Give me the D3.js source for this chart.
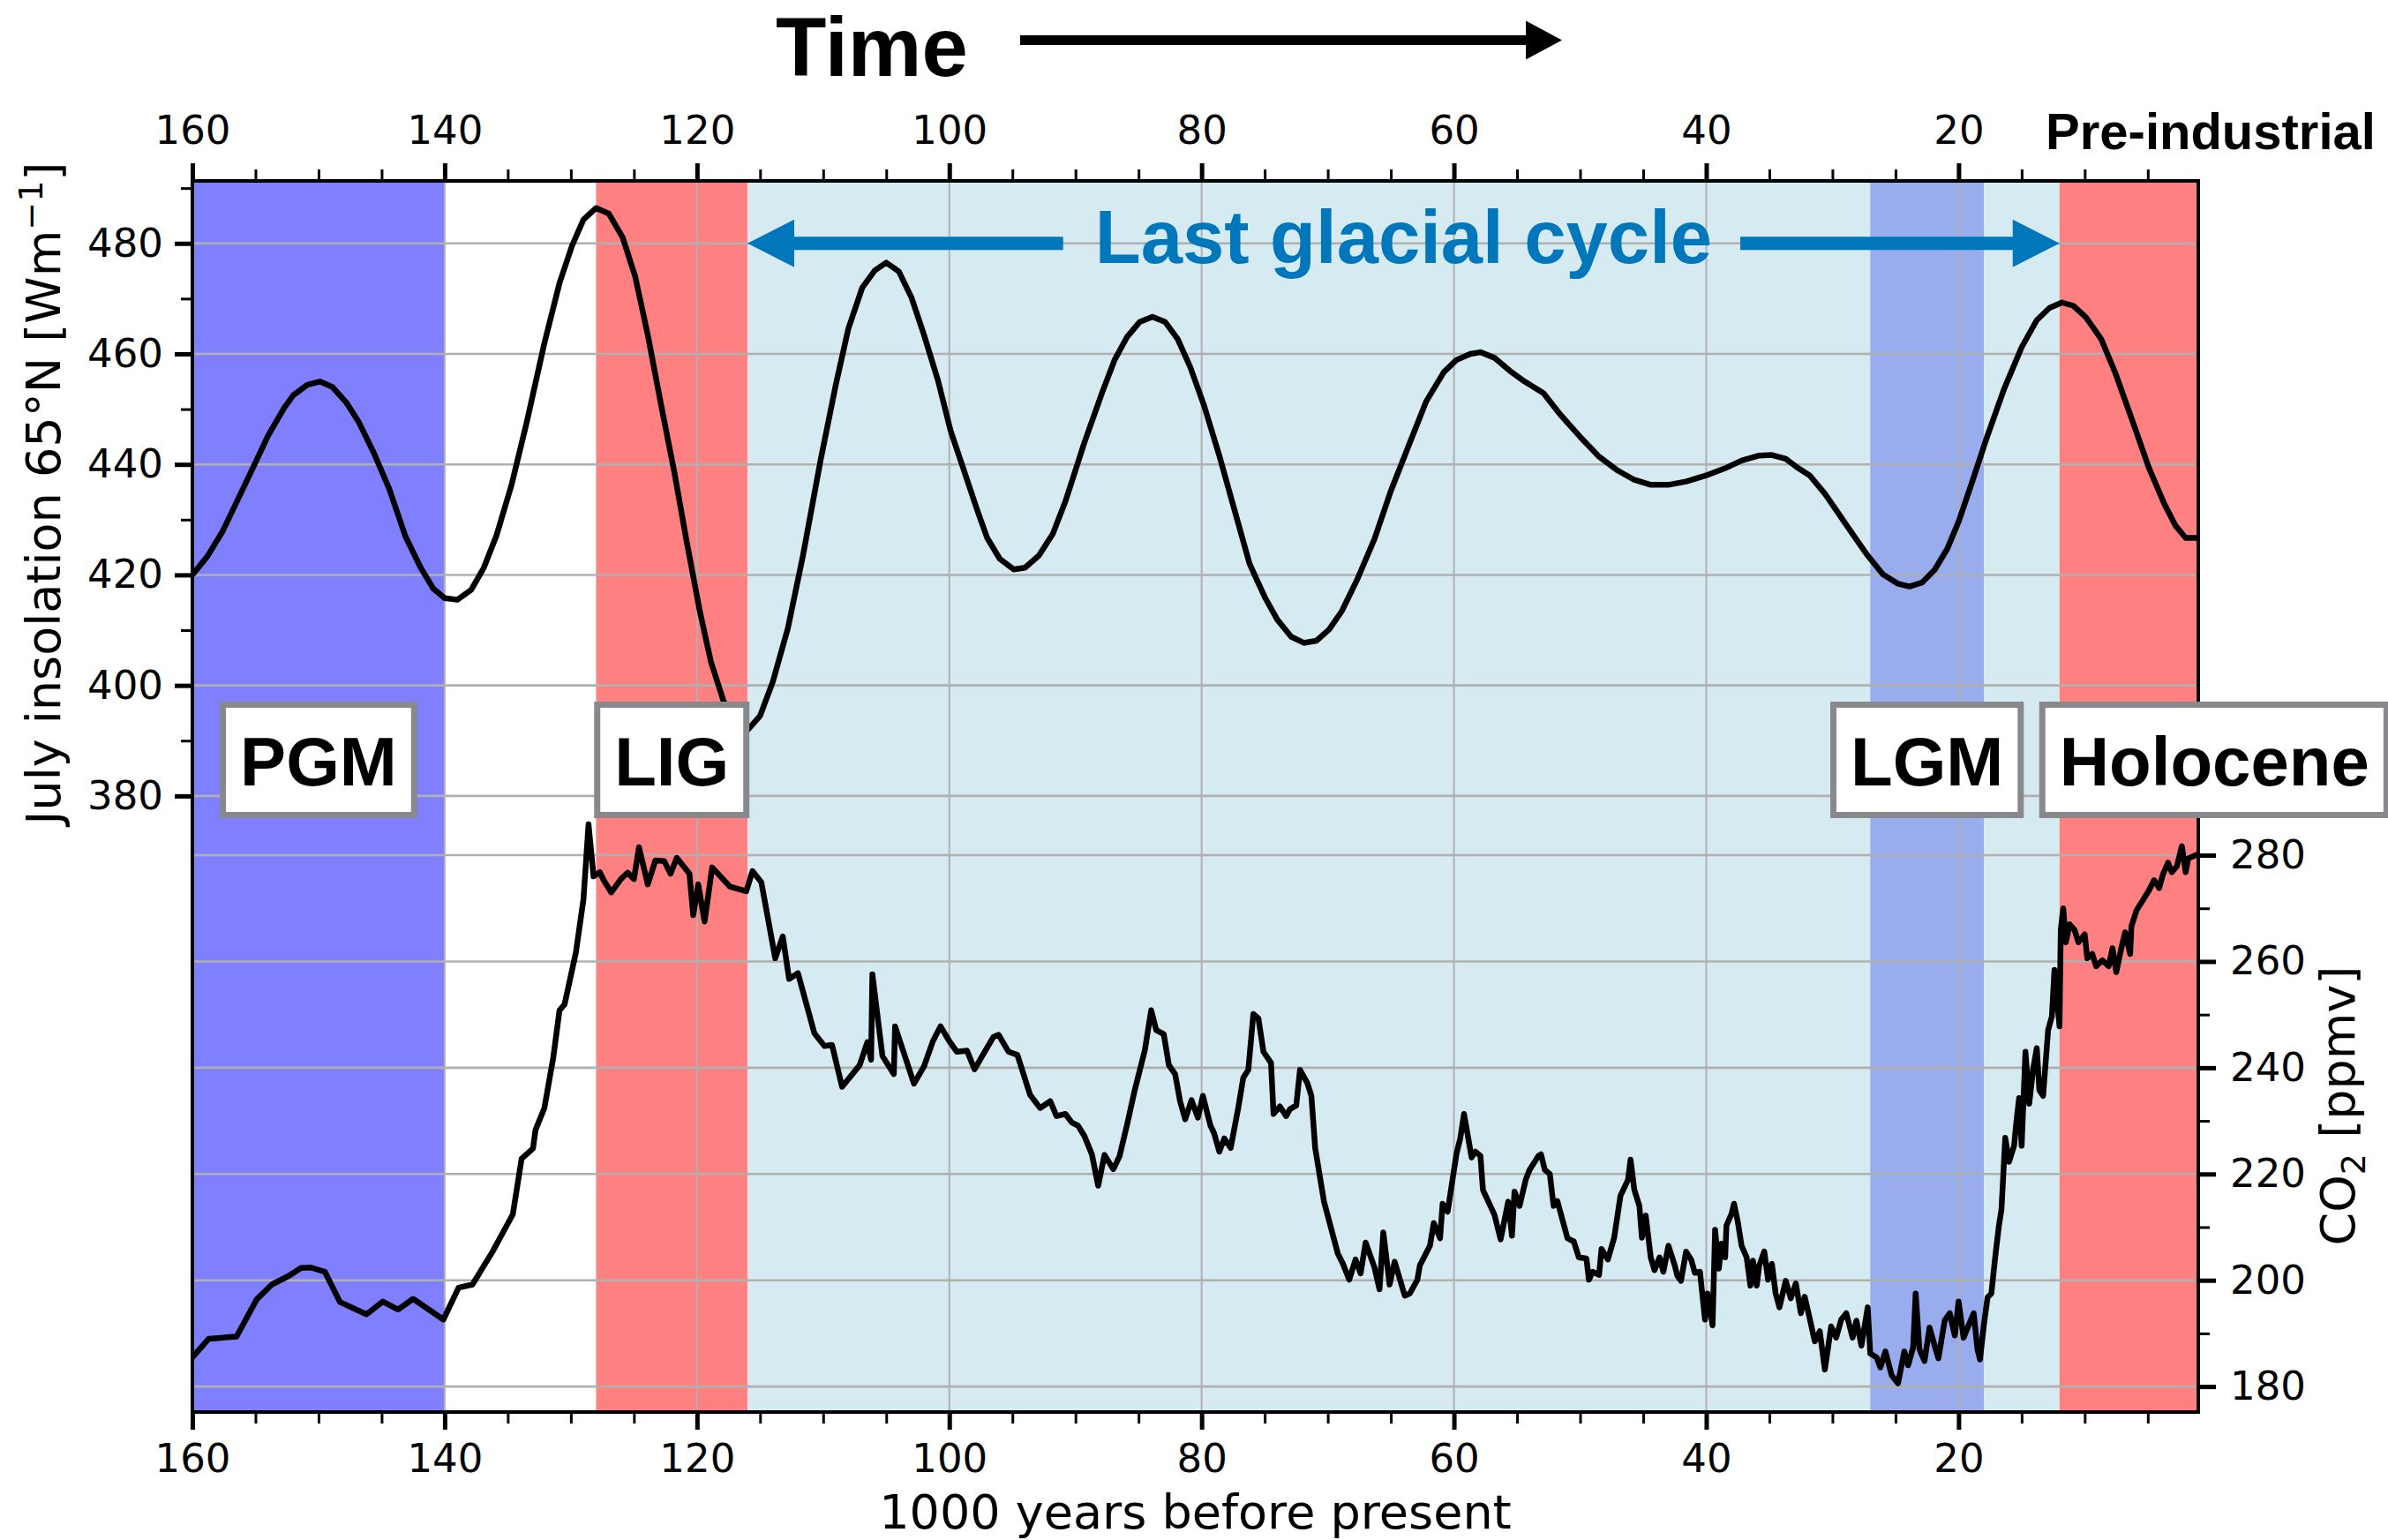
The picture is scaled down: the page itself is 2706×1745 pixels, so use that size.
<!DOCTYPE html>
<html>
<head>
<meta charset="utf-8">
<script src="https://cdn.jsdelivr.net/npm/d3@7"></script>
<style>
  html, body { margin: 0; padding: 0; background: #fff; }
  svg { display: block; }
  .tick text { font-family: "DejaVu Sans", sans-serif; font-size: 45px; fill: #000; }
</style>
</head>
<body>
<svg id="chart" width="2706" height="1745"></svg>
<script>
// ── Datos: insolación de julio 65°N ─────────────────────────────
const insKyr = [160, 158.8, 157.6, 155.4, 154.0, 152.7, 152.0, 150.9, 149.9, 148.9, 147.8, 146.8, 145.6, 144.4,
  143.1, 141.9, 140.9, 140.0, 139.0, 137.9, 136.9, 135.9, 134.7, 133.5, 132.1, 130.9, 129.9, 129.0, 128.0, 127.0,
  125.9, 124.9, 123.9, 122.9, 121.8, 120.8, 119.8, 118.9, 117.9, 117.0, 116.0, 115.0, 114.0, 112.8, 111.6, 110.2,
  109.0, 108.0, 106.9, 105.9, 105.0, 104.0, 103.0, 102.0, 100.9, 99.9, 98.9, 97.8, 97.0, 96.0, 94.9, 94.0, 92.9,
  91.8, 90.8, 89.3, 87.9, 86.9, 85.9, 84.9, 83.9, 82.9, 81.9, 80.9, 79.8, 78.6, 77.4, 76.2, 75.0, 74.0, 72.9, 71.9,
  70.9, 69.9, 68.9, 67.7, 66.3, 65.0, 63.5, 62.2, 60.8, 59.8, 58.7, 57.9, 56.8, 55.6, 54.4, 52.9, 51.6, 50.0, 48.5,
  47.1, 45.7, 44.4, 43.0, 41.6, 40.0, 38.5, 37.2, 35.8, 34.8, 33.7, 32.7, 31.8, 30.6, 29.6, 28.4, 27.2, 26.0, 24.8,
  23.9, 22.9, 21.9, 20.9, 20.0, 19.0, 17.8, 16.4, 15.0, 13.8, 12.8, 11.8, 10.9, 9.9, 8.7, 7.6, 6.3, 4.9, 3.7, 2.8,
  2.0, 1.0];
const insWm2 = [420.0, 423.4, 427.9, 438.4, 445.2, 450.3, 452.5, 454.4, 455.0, 454.0, 451.2, 447.6, 442.0, 435.6,
  426.9, 421.3, 417.5, 415.8, 415.5, 417.3, 421.3, 427.1, 436.3, 447.6, 461.9, 472.8, 479.6, 484.3, 486.4, 485.4,
  481.1, 474.0, 463.4, 451.4, 438.6, 425.8, 413.7, 404.3, 397.2, 393.0, 391.9, 394.5, 400.6, 410.3, 423.5, 440.8,
  454.4, 464.6, 472.0, 475.1, 476.5, 474.9, 470.2, 463.4, 455.2, 446.1, 439.3, 431.8, 426.7, 422.9, 421.0, 421.3, 423.5,
  427.4, 433.3, 443.9, 452.9, 458.9, 463.1, 465.8, 466.7, 465.8, 462.7, 457.6, 450.6, 441.6, 431.8, 422.0, 416.0, 411.9, 408.8, 407.7,
  408.1, 410.1, 413.4, 419.0, 426.5, 435.2, 443.9, 451.4, 456.7, 458.9, 460.0, 460.3, 459.3, 457.0, 455.0, 452.9, 449.1, 445.0, 441.4,
  439.0, 437.2, 436.3, 436.3, 436.9, 438.0, 439.3, 440.7, 441.6, 441.7, 441.0, 439.3, 438.0, 434.7, 431.4, 427.4, 423.5, 420.1, 418.4,
  417.9, 418.6, 420.9, 424.7, 429.6, 436.3, 444.6, 453.6, 461.2, 466.1, 468.3, 469.3, 468.7, 466.6, 462.7, 456.7, 448.4, 439.3, 432.9, 428.9,
  426.7, 426.7];

// ── Datos: CO2 ───────────────────────────────────────────────────
const co2Kyr = [160.0, 158.7, 156.5, 154.9, 153.7, 152.3, 151.4, 150.6, 149.5, 148.3, 146.2, 144.9, 143.7, 142.5, 140.1,
  138.9, 137.8, 136.2, 134.6, 133.9, 133.0, 132.8, 132.1, 131.4, 130.9, 130.5, 129.6, 129.0, 128.6, 128.2, 127.7, 127.4,
  126.8, 126.0, 125.5, 125.0, 124.6, 123.9, 123.3, 122.6, 122.1, 121.6, 120.6, 120.3, 119.9, 119.4, 118.8, 117.4, 116.1,
  115.6, 114.9, 113.8, 113.2, 112.7, 112.0, 110.7, 109.9, 109.3, 108.5, 107.1, 106.5, 106.2, 106.1, 105.3, 104.4, 104.3,
  102.8, 102.0, 101.3, 100.7, 100.0, 99.4, 98.6, 98.0, 97.2, 96.5, 96.1, 95.3, 94.6, 93.6, 92.8, 92.0, 91.5, 90.8, 90.3,
  89.8, 89.3, 88.7, 88.2, 87.7, 87.0, 86.5, 85.9, 85.3, 84.5, 84.0, 83.6, 83.0, 82.6, 82.1, 81.7, 81.3, 80.8, 80.3, 79.9,
  79.3, 79.0, 78.6, 78.2, 77.7, 77.1, 76.7, 76.3, 75.9, 75.5, 75.1, 74.5, 74.3, 73.8, 73.3, 73.0, 72.5, 72.2, 71.6, 71.3,
  71.0, 70.3, 69.2, 68.8, 68.3, 67.8, 67.4, 67.0, 66.3, 65.9, 65.6, 65.1, 64.7, 63.9, 63.5, 62.9, 62.7, 61.9, 61.6, 61.1,
  60.9, 60.5, 59.8, 59.5, 59.2, 58.6, 58.3, 57.9, 57.7, 56.8, 56.3, 55.7, 55.4, 55.2, 54.8, 54.3, 54.0, 53.7, 53.3, 53.1,
  52.8, 52.4, 52.1, 51.8, 51.0, 50.5, 50.1, 49.5, 49.3, 49.0, 48.5, 48.3, 47.8, 47.3, 46.8, 46.2, 46.0, 45.7, 45.3, 45.1,
  44.8, 44.4, 44.1, 43.7, 43.4, 43.0, 42.5, 42.3, 42.0, 41.6, 41.2, 40.9, 40.5, 40.1, 39.9, 39.5, 39.3, 39.0, 38.8, 38.5,
  38.4, 38.0, 37.8, 37.5, 37.2, 36.8, 36.5, 36.3, 36.0, 35.8, 35.4, 35.1, 34.8, 34.5, 34.2, 33.7, 33.3, 32.9, 32.5, 32.2,
  31.8, 31.4, 31.0, 30.6, 30.1, 29.7, 29.3, 28.9, 28.4, 28.1, 27.7, 27.2, 27.0, 26.5, 26.2, 25.8, 25.3, 24.8, 24.3, 24.0,
  23.6, 23.4, 23.1, 22.7, 22.3, 21.9, 21.6, 21.1, 20.7, 20.3, 20.0, 19.6, 19.2, 18.8, 18.5, 18.3, 18.0, 17.7, 17.4, 17.1,
  16.8, 16.6, 16.3, 16.0, 15.6, 15.4, 15.2, 15.0, 14.7, 14.4, 14.1, 13.8, 13.6, 13.3, 12.9, 12.6, 12.4, 12.0, 11.9, 11.7,
  11.5, 11.2, 10.8, 10.5, 10.0, 9.8, 9.4, 9.1, 8.6, 8.1, 7.8, 7.5, 7.1, 6.8, 6.4, 6.3, 5.9, 5.4, 4.9, 4.5, 4.1, 3.8, 3.4,
  3.1, 2.7, 2.3, 2.0, 1.8, 1.0];
const co2Ppmv = [185.5, 189.0, 189.4, 196.4, 199.2, 200.9, 202.3, 202.4, 201.6, 195.9, 193.6, 196.0, 194.5, 196.5, 192.6,
  198.6, 199.2, 205.4, 212.4, 222.9, 224.8, 228.3, 232.4, 241.8, 250.8, 251.9, 261.7, 271.7, 285.8, 276.0, 276.8, 275.3,
  273.0, 275.6, 276.7, 275.5, 281.5, 274.5, 279.0, 278.9, 276.5, 279.5, 276.5, 268.7, 274.5, 267.5, 277.7, 274.1, 273.2,
  277.0, 274.9, 260.6, 264.7, 256.7, 257.8, 246.5, 244.1, 244.3, 236.4, 240.5, 244.8, 241.5, 257.6, 242.2, 238.8, 247.8,
  237.0, 240.3, 245.0, 247.8, 245.0, 243.0, 243.2, 239.7, 243.0, 245.8, 246.2, 243.0, 242.4, 234.9, 232.4, 233.7, 230.9, 231.3, 229.7,
  229.1, 227.2, 223.7, 217.8, 223.6, 220.9, 223.4, 229.4, 235.8, 243.3, 250.8, 247.1, 246.3, 240.5, 238.8, 233.6, 230.3, 233.9, 230.6, 234.7,
  229.1, 227.6, 224.2, 226.7, 224.9, 232.4, 238.1, 239.6, 250.1, 249.3, 243.0, 240.9, 231.3, 232.7, 230.9, 232.2, 232.9, 239.6, 237.0, 234.7,
  224.9, 214.8, 205.0, 203.1, 200.1, 203.9, 201.3, 207.1, 202.4, 198.3, 209.0, 199.2, 203.5, 197.1, 197.5, 200.1, 202.8, 206.5, 210.8, 207.9,
  214.4, 212.9, 223.8, 226.7, 231.3, 223.1, 224.2, 223.4, 217.0, 212.4, 207.7, 214.8, 208.4, 216.7, 214.0, 219.0, 220.8, 221.9, 223.4, 223.7,
  220.8, 220.0, 214.0, 214.9, 207.9, 207.3, 204.3, 204.1, 200.1, 201.6, 201.0, 205.9, 203.9, 208.0, 215.9, 218.9, 222.7, 217.0, 214.0, 208.0,
  212.2, 204.3, 201.9, 204.3, 201.6, 206.5, 202.8, 200.9, 199.9, 205.4, 203.9, 201.4, 201.6, 192.6, 197.5, 191.5, 209.5, 202.2, 206.9, 204.3,
  210.3, 212.5, 214.4, 211.0, 206.5, 204.3, 199.0, 203.7, 199.0, 202.8, 205.4, 200.1, 203.1, 197.5, 194.9, 199.9, 196.6, 199.4, 193.8, 196.9,
  192.8, 188.5, 190.4, 183.2, 191.3, 189.2, 192.6, 193.8, 189.2, 192.4, 187.7, 194.9, 186.2, 185.5, 183.6, 186.6, 182.1, 180.6, 186.6, 184.0,
  187.4, 197.5, 187.0, 184.8, 191.1, 187.7, 185.3, 192.4, 193.8, 189.6, 196.0, 189.2, 191.5, 193.8, 187.0, 185.1, 191.5, 196.8, 197.5, 204.3,
  210.3, 213.3, 226.8, 222.3, 225.3, 230.2, 234.3, 225.3, 243.0, 233.2, 239.6, 243.7, 235.8, 234.7, 247.1, 249.7, 258.4, 247.8, 265.9, 270.0,
  263.6, 267.0, 265.9, 263.6, 265.1, 260.6, 261.4, 259.1, 260.2, 259.1, 262.5, 258.0, 262.5, 265.5, 261.4, 266.6, 269.6, 271.5, 273.4, 275.3, 273.8, 276.4, 278.6,
  276.8, 277.9, 281.7, 276.8, 279.4, 280.2];

// ── Periodos y etiquetas ─────────────────────────────────────────
const periodNames = ["PGM", "LIG", "Last glacial cycle", "LGM", "Holocene"];
const periodStart = [160, 128, 116, 27, 12];
const periodEnd   = [140, 116, 12, 18, 1];
const boxLabels = ["PGM", "LIG", "LGM", "Holocene"];
const boxAt     = [150, 122, 22.5, 12];

// ── Ticks ────────────────────────────────────────────────────────
const xMajor = [160, 140, 120, 100, 80, 60, 40, 20];
const xMinor = d3.range(155, 0, -5).filter(v => v % 20 !== 0);
const insMajor = [380, 400, 420, 440, 460, 480];
const insMinor = [390, 410, 430, 450, 470, 490];
const co2Major = [180, 200, 220, 240, 260, 280];
const co2Minor = [190, 210, 230, 250, 270];

// ── Estilo ───────────────────────────────────────────────────────
const spanColor = {
  "PGM": "#8080ff", "LIG": "#ff8080", "Last glacial cycle": "#d6eaf2",
  "LGM": "#98acee", "Holocene": "#ff8080"
};
const BOLD = '"Liberation Sans", Arial, Helvetica, sans-serif';
const SANS = '"DejaVu Sans", sans-serif';
const BLUE = "#0077bb";
const M = { left: 218, right: 2491, top: 205, bottom: 1600 };
const LINE_W = 6.5;

const svg = d3.select("#chart");

const x = d3.scaleLinear().domain([160, 1]).range([M.left, M.right]);
const yIns = d3.scaleLinear().domain([268.5, 491.3]).range([M.bottom, M.top]);
const yCo2 = d3.scaleLinear().domain([175.2, 406.9]).range([M.bottom, M.top]);

svg.append("defs").append("clipPath").attr("id", "plot-clip")
  .append("rect")
  .attr("x", M.left).attr("y", M.top)
  .attr("width", M.right - M.left).attr("height", M.bottom - M.top);

// ── Franjas de periodos ──────────────────────────────────────────
svg.append("g").selectAll("rect")
  .data(periodNames)
  .join("rect")
  .attr("x", (d, i) => x(periodStart[i]))
  .attr("width", (d, i) => x(periodEnd[i]) - x(periodStart[i]))
  .attr("y", M.top).attr("height", M.bottom - M.top)
  .attr("fill", d => spanColor[d]);

// ── Rejilla ──────────────────────────────────────────────────────
const grid = svg.append("g").attr("stroke", "#b0b0b0");
grid.selectAll("line.v").data(xMajor).join("line").attr("class", "v")
  .attr("x1", d => x(d)).attr("x2", d => x(d))
  .attr("y1", M.top).attr("y2", M.bottom).attr("stroke-width", 2);
grid.selectAll("line.hi").data(insMajor).join("line").attr("class", "hi")
  .attr("x1", M.left).attr("x2", M.right)
  .attr("y1", d => yIns(d)).attr("y2", d => yIns(d)).attr("stroke-width", 2.6);
grid.selectAll("line.hc").data(co2Major).join("line").attr("class", "hc")
  .attr("x1", M.left).attr("x2", M.right)
  .attr("y1", d => yCo2(d)).attr("y2", d => yCo2(d)).attr("stroke-width", 2.6);

// ── Curvas ───────────────────────────────────────────────────────
const curves = svg.append("g").attr("clip-path", "url(#plot-clip)");
curves.append("path")
  .datum(insKyr.map((k, i) => [k, insWm2[i]]))
  .attr("fill", "none").attr("stroke", "#000").attr("stroke-width", LINE_W)
  .attr("stroke-linejoin", "round")
  .attr("d", d3.line().x(d => x(d[0])).y(d => yIns(d[1])));
curves.append("path")
  .datum(co2Kyr.map((k, i) => [k, co2Ppmv[i]]))
  .attr("fill", "none").attr("stroke", "#000").attr("stroke-width", LINE_W)
  .attr("stroke-linejoin", "round")
  .attr("d", d3.line().x(d => x(d[0])).y(d => yCo2(d[1])));

// ── Ejes ─────────────────────────────────────────────────────────
function styleAxis(g, w) {
  g.select(".domain").remove();
  g.selectAll(".tick line").attr("stroke", "#000").attr("stroke-width", w);
}
const fmt = d3.format("d");
svg.append("g").attr("transform", `translate(0,${M.bottom})`)
  .call(d3.axisBottom(x).tickValues(xMajor).tickSize(20).tickPadding(16).tickFormat(fmt))
  .call(g => styleAxis(g, 5));
svg.append("g").attr("transform", `translate(0,${M.bottom})`)
  .call(d3.axisBottom(x).tickValues(xMinor).tickSize(13).tickFormat(""))
  .call(g => styleAxis(g, 3));
svg.append("g").attr("transform", `translate(0,${M.top})`)
  .call(d3.axisTop(x).tickValues(xMajor).tickSize(20).tickPadding(22).tickFormat(fmt))
  .call(g => styleAxis(g, 5));
svg.append("g").attr("transform", `translate(0,${M.top})`)
  .call(d3.axisTop(x).tickValues(xMinor).tickSize(13).tickFormat(""))
  .call(g => styleAxis(g, 3));
svg.append("g").attr("transform", `translate(${M.left},0)`)
  .call(d3.axisLeft(yIns).tickValues(insMajor).tickSize(20).tickPadding(13).tickFormat(fmt))
  .call(g => styleAxis(g, 5));
svg.append("g").attr("transform", `translate(${M.left},0)`)
  .call(d3.axisLeft(yIns).tickValues(insMinor).tickSize(13).tickFormat(""))
  .call(g => styleAxis(g, 3));
svg.append("g").attr("transform", `translate(${M.right},0)`)
  .call(d3.axisRight(yCo2).tickValues(co2Major).tickSize(20).tickPadding(16).tickFormat(fmt))
  .call(g => styleAxis(g, 5));
svg.append("g").attr("transform", `translate(${M.right},0)`)
  .call(d3.axisRight(yCo2).tickValues(co2Minor).tickSize(13).tickFormat(""))
  .call(g => styleAxis(g, 3));

// marco
svg.append("rect")
  .attr("x", M.left).attr("y", M.top)
  .attr("width", M.right - M.left).attr("height", M.bottom - M.top)
  .attr("fill", "none").attr("stroke", "#000").attr("stroke-width", 4);

svg.append("text")
  .attr("x", x(1) + 14).attr("y", 169)
  .attr("text-anchor", "middle")
  .attr("font-family", BOLD).attr("font-weight", "bold").attr("font-size", 58)
  .text("Pre-industrial");

// ── Títulos de ejes ──────────────────────────────────────────────
svg.append("text")
  .attr("x", (M.left + M.right) / 2).attr("y", 1732)
  .attr("text-anchor", "middle")
  .attr("font-family", SANS).attr("font-size", 54)
  .text("1000 years before present");

const yl = svg.append("text")
  .attr("transform", "translate(68,559) rotate(-90)")
  .attr("text-anchor", "middle")
  .attr("font-family", SANS).attr("font-size", 54);
yl.append("tspan").text("July insolation 65°N [Wm");
yl.append("tspan").attr("dy", -20).attr("font-size", 38).text("\u22121");
yl.append("tspan").attr("dy", 20).text("]");

const yr = svg.append("text")
  .attr("transform", "translate(2668,1253) rotate(-90)")
  .attr("text-anchor", "middle")
  .attr("font-family", SANS).attr("font-size", 54);
yr.append("tspan").text("CO");
yr.append("tspan").attr("dy", 12).attr("font-size", 38).text("2");
yr.append("tspan").attr("dy", -12).text(" [ppmv]");

// ── Flecha "Last glacial cycle" ──────────────────────────────────
function arrow(g, xa, xb, y, half, headLen, headHalf) {
  const s = Math.sign(xb - xa);
  const xh = xb - s * headLen;
  g.append("polygon")
    .attr("points", [[xa, y - half], [xh, y - half], [xh, y - headHalf], [xb, y],
      [xh, y + headHalf], [xh, y + half], [xa, y + half]].map(p => p.join(",")).join(" "));
}
const lgc = svg.append("g").attr("fill", BLUE);
const lgcMid = (x(116) + x(12)) / 2;
const lgcText = lgc.append("text")
  .attr("x", lgcMid).attr("y", 298)
  .attr("text-anchor", "middle")
  .attr("font-family", BOLD).attr("font-weight", "bold").attr("font-size", 85)
  .text("Last glacial cycle");
const lgcW = lgcText.node().getComputedTextLength();
arrow(lgc, lgcMid - lgcW / 2 - 36, x(116), yIns(480), 7.5, 53, 27);
arrow(lgc, lgcMid + lgcW / 2 + 32, x(12), yIns(480), 7.5, 53, 27);

// ── Cajas de periodos ────────────────────────────────────────────
boxLabels.forEach((label, i) => {
  const g = svg.append("g");
  const t = g.append("text")
    .attr("y", 890)
    .attr("font-family", BOLD).attr("font-weight", "bold").attr("font-size", 78)
    .text(label);
  const w = t.node().getComputedTextLength();
  const tx = label === "Holocene" ? x(boxAt[i]) : x(boxAt[i]) - w / 2;
  t.attr("x", tx);
  g.insert("rect", "text")
    .attr("x", tx - 19.5).attr("y", 798.5)
    .attr("width", w + 39).attr("height", 125)
    .attr("fill", "#fff").attr("stroke", "#87898d").attr("stroke-width", 7);
});

// ── "Time →" ─────────────────────────────────────────────────────
svg.append("text")
  .attr("x", 879).attr("y", 86)
  .attr("font-family", BOLD).attr("font-weight", "bold").attr("font-size", 94)
  .text("Time");
arrow(svg.append("g").attr("fill", "#000"), 1156, 1770, 45.5, 5.5, 41, 22);
</script>
</body>
</html>
